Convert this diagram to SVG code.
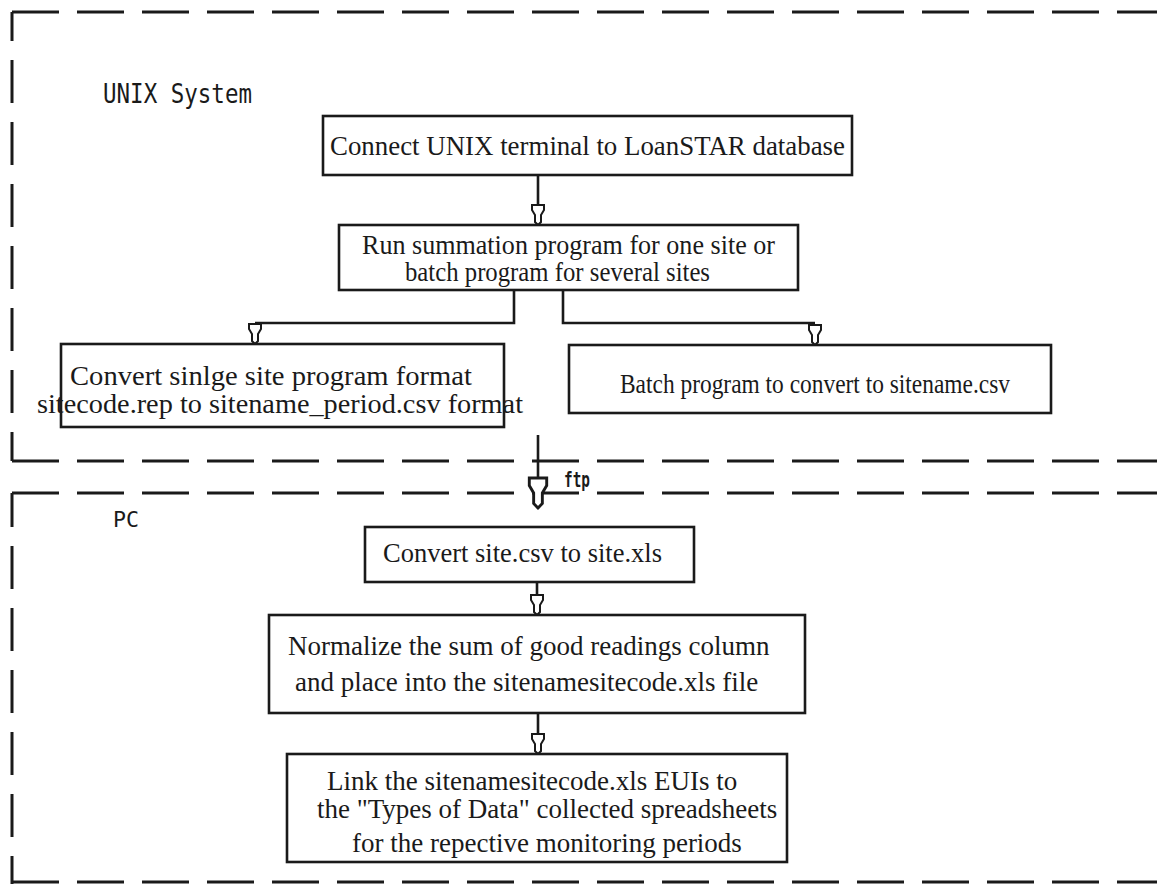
<svg xmlns="http://www.w3.org/2000/svg" width="1157" height="884" viewBox="0 0 1157 884">
<style>
.bg{fill:#fff}
.frameH{stroke:#1a1a1a;stroke-width:3;fill:none;stroke-dasharray:47 18}
.frameV{stroke:#1a1a1a;stroke-width:3;fill:none;stroke-dasharray:43 19}
.box{fill:#fff;stroke:#1a1a1a;stroke-width:2.6}
.wire{fill:none;stroke:#1a1a1a;stroke-width:2.6}
.t{font-family:"Liberation Serif","Times New Roman",serif;font-size:27px;fill:#1a1a1a}
.sys{font-family:"DejaVu Sans Mono","Liberation Mono",monospace;fill:#1a1a1a}
.head{fill:#fff;stroke:#1a1a1a;stroke-width:2}
</style>
<defs>
<path id="nib" d="M-6,-20 H6 V-15 L3,-10 V-3 L0,0 L-3,-3 V-10 L-6,-15 Z"/>
</defs>
<rect class="bg" x="0" y="0" width="1157" height="884"/>

<g id="unix-frame">
<path class="frameH" d="M12,12 H1157"/>
<path class="frameV" d="M12,12 V461" stroke-dashoffset="14"/>
<path class="frameH" d="M12,461 H1157"/>
<text class="sys" x="103" y="103" font-size="27" textLength="149" lengthAdjust="spacingAndGlyphs">UNIX System</text>
</g>

<g id="pc-frame">
<path class="frameH" d="M12,493 H1157"/>
<path class="frameV" d="M12,493 V884" stroke-dashoffset="9"/>
<path class="frameH" d="M12,882 H1157" stroke-width="2"/>
<text class="sys" x="113" y="527" font-size="21" textLength="26" lengthAdjust="spacingAndGlyphs">PC</text>
</g>

<g id="connectors">
<path class="wire" d="M538,175 V205"/>
<use href="#nib" class="head" x="538" y="225"/>
<path class="wire" d="M514,290 V323 H255"/>
<use href="#nib" class="head" x="255" y="344"/>
<path class="wire" d="M563,290 V323 H815"/>
<use href="#nib" class="head" x="815" y="345"/>
<path class="wire" d="M538,435 V478"/>
<use href="#nib" class="head" transform="translate(538,508) scale(1.45,1.5)" stroke-width="1.5"/>
<text class="sys" x="564" y="487" font-size="21" font-weight="bold" textLength="26" lengthAdjust="spacingAndGlyphs">ftp</text>
<path class="wire" d="M537,582 V595"/>
<use href="#nib" class="head" x="537" y="615"/>
<path class="wire" d="M538,713 V734"/>
<use href="#nib" class="head" x="538" y="754"/>
</g>

<g id="connect-unix">
<rect class="box" x="323" y="116" width="529" height="59"/>
<text class="t" x="330" y="155" textLength="515" lengthAdjust="spacingAndGlyphs">Connect UNIX terminal to LoanSTAR database</text>
</g>

<g id="run-summation">
<rect class="box" x="339" y="225" width="459" height="65"/>
<text class="t" x="362" y="254" font-size="24" textLength="413" lengthAdjust="spacingAndGlyphs">Run summation program for one site or</text>
<text class="t" x="405" y="281" font-size="24" textLength="305" lengthAdjust="spacingAndGlyphs">batch program for several sites</text>
</g>

<g id="convert-single">
<rect class="box" x="61" y="344" width="443" height="83"/>
<text class="t" x="70" y="385" textLength="402" lengthAdjust="spacingAndGlyphs">Convert sinlge site program format</text>
<text class="t" x="37" y="413" textLength="486" lengthAdjust="spacingAndGlyphs">sitecode.rep to sitename_period.csv format</text>
</g>

<g id="batch-convert">
<rect class="box" x="569" y="345" width="482" height="68"/>
<text class="t" x="620" y="393" font-size="23.5" textLength="390" lengthAdjust="spacingAndGlyphs">Batch program to convert to sitename.csv</text>
</g>

<g id="convert-xls">
<rect class="box" x="365" y="527" width="329" height="55"/>
<text class="t" x="383" y="562" textLength="279" lengthAdjust="spacingAndGlyphs">Convert site.csv to site.xls</text>
</g>

<g id="normalize">
<rect class="box" x="269" y="615" width="536" height="98"/>
<text class="t" x="288" y="655">Normalize the sum of good readings column</text>
<text class="t" x="295" y="691">and place into the sitenamesitecode.xls file</text>
</g>

<g id="link-eui">
<rect class="box" x="287" y="754" width="500" height="108"/>
<text class="t" x="327" y="790">Link the sitenamesitecode.xls EUIs to</text>
<text class="t" x="317" y="818">the "Types of Data" collected spreadsheets</text>
<text class="t" x="352" y="852">for the repective monitoring periods</text>
</g>
</svg>
